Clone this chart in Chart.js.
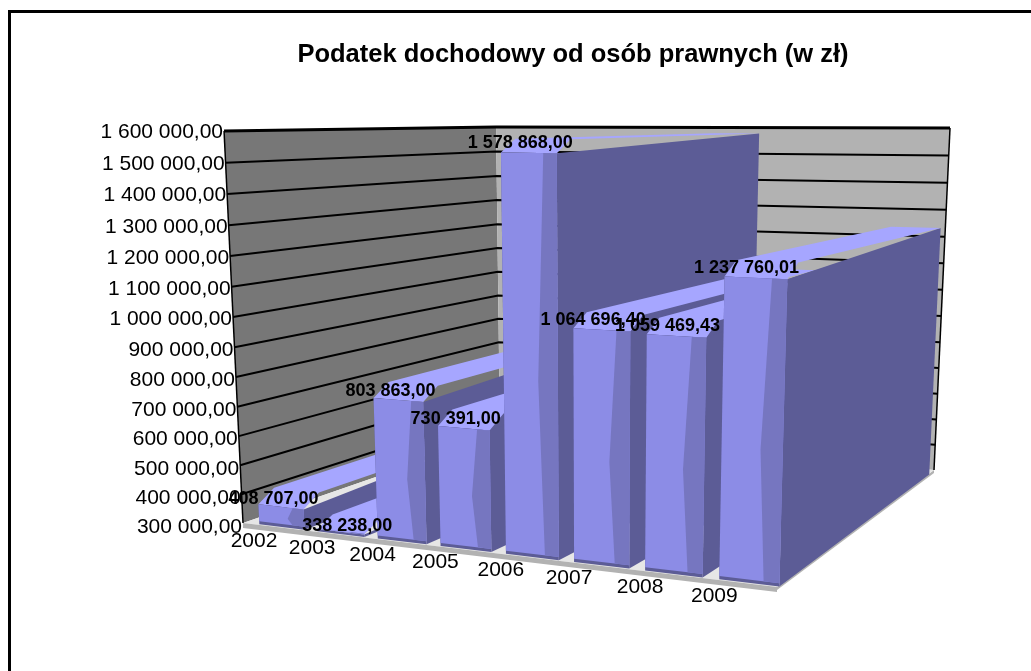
<!DOCTYPE html>
<html>
<head>
<meta charset="utf-8">
<title>Podatek dochodowy od osób prawnych</title>
<script src="https://cdn.jsdelivr.net/npm/chart.js@4"></script>
<style>
  html, body { margin: 0; padding: 0; background: #fff; }
  canvas { display: block; }
</style>
</head>
<body>
<canvas id="chart" width="1031" height="671"></canvas>
<script>
const years = ["2002", "2003", "2004", "2005", "2006", "2007", "2008", "2009"];
const taxValues = [408707.0, 338238.0, 803863.0, 730391.0, 1578868.0, 1064696.4, 1059469.43, 1237760.01];
const axisMin = 300000;
const axisMax = 1600000;
const axisStep = 100000;
const chartTitle = "Podatek dochodowy od osób prawnych (w zł)";

// floor corners on the page: front left, front right, back right, back left
const floor = [[243, 523], [777, 587], [934, 470], [500, 434]];
const lean = { m: -0.0511, e: -30.4, k: -398.7, ku: 6.8, kd: -2.3 };
const barFrom = 0.0193;
const barSpan = 0.9968;
const frontDepth = 0.004;
const backDepth = 0.95;
const bevel = 0.03;

function buildProjection() {
  const [p0, p1, p2, p3] = floor;
  const dx1 = p1[0] - p2[0], dy1 = p1[1] - p2[1];
  const dx2 = p3[0] - p2[0], dy2 = p3[1] - p2[1];
  const sx = p0[0] - p1[0] + p2[0] - p3[0], sy = p0[1] - p1[1] + p2[1] - p3[1];
  const det = dx1 * dy2 - dy1 * dx2;
  const g = (sx * dy2 - sy * dx2) / det;
  const h = (dx1 * sy - dy1 * sx) / det;
  const a = p1[0] - p0[0] + g * p1[0], b = p3[0] - p0[0] + h * p3[0];
  const f = p1[1] - p0[1] + g * p1[1], i = p3[1] - p0[1] + h * p3[1];
  return (u, d, v) => {
    const w = g * u + h * d + lean.m * v + 1;
    const k = lean.k + lean.ku * u + lean.kd * d;
    return [(a * u + b * d + p0[0] + lean.e * v) / w, (f * u + i * d + p0[1] + k * v) / w];
  };
}

const project = buildProjection();

function fillPoly(ctx, points, color) {
  ctx.beginPath();
  points.forEach(([x, y], n) => (n ? ctx.lineTo(x, y) : ctx.moveTo(x, y)));
  ctx.closePath();
  ctx.fillStyle = color;
  ctx.fill();
}

function strokeLine(ctx, points, width) {
  ctx.beginPath();
  points.forEach(([x, y], n) => (n ? ctx.lineTo(x, y) : ctx.moveTo(x, y)));
  ctx.lineWidth = width;
  ctx.strokeStyle = "#000";
  ctx.stroke();
}

function formatAmount(value) {
  const [whole, cents] = value.toFixed(2).split(".");
  return `${whole.replace(/\B(?=(\d{3})+$)/g, " ")},${cents}`;
}

function heightOfPixel(yScale, pixel) {
  return (yScale.bottom - pixel) / (yScale.bottom - yScale.top);
}

function pixelToFloor(xScale, pixel) {
  return barFrom + ((pixel - xScale.left) / xScale.width) * barSpan;
}

function drawWalls(ctx, yScale) {
  const a = project(0, 0, 0);
  const b = project(1, 0, 0);
  const c = project(1, 1, 0);
  fillPoly(ctx, [a, project(0, 1, 0), project(0, 1, 1), project(0, 0, 1)], "#777777");
  fillPoly(ctx, [project(0, 1, 0), c, project(1, 1, 1), project(0, 1, 1)], "#b2b2b2");
  fillPoly(ctx, [b, [b[0], b[1] + 3], [c[0], c[1] + 3], c], "#b2b2b2");
  fillPoly(ctx, [a, b, c, project(0, 1, 0)], "#e6e6e6");
  fillPoly(ctx, [a, b, [b[0], b[1] + 5], [a[0], a[1] + 5]], "#b2b2b2");

  yScale.ticks.forEach((tick) => {
    const v = heightOfPixel(yScale, yScale.getPixelForValue(tick.value));
    if (v > 0) {
      strokeLine(ctx, [project(0, 0, v), project(0, 1, v), project(1, 1, v)], v === 1 ? 3 : 2);
    }
  });
  strokeLine(ctx, [project(0, 0, 0), project(0, 0, 1)], 1.5);
  strokeLine(ctx, [project(1, 1, 0), project(1, 1, 1)], 1.5);
}

function drawBar(ctx, bar, xScale, yScale) {
  const u0 = pixelToFloor(xScale, bar.x - bar.width / 2);
  const u1 = pixelToFloor(xScale, bar.x + bar.width / 2);
  const v = heightOfPixel(yScale, bar.y);
  const vf = Math.max(v - bevel, 0.006);
  const du = u1 - u0;

  // right side, then the top with its short lip over the front
  fillPoly(ctx, [project(u1, frontDepth, 0), project(u1, backDepth, 0), project(u1, backDepth, v), project(u1, frontDepth, vf)], "#5c5c96");
  fillPoly(ctx, [project(u0, frontDepth, vf), project(u1, frontDepth, vf), project(u1, frontDepth + 0.05, v), project(u1, backDepth, v), project(u0, backDepth, v), project(u0, frontDepth + 0.05, v)], "#a6a6ff");

  fillPoly(ctx, [project(u0, frontDepth, 0), project(u1, frontDepth, 0), project(u1, frontDepth, vf), project(u0, frontDepth, vf)], "#5c5c96");
  fillPoly(ctx, [project(u0, frontDepth, 0.008), project(u1, frontDepth, 0.008), project(u1, frontDepth, vf), project(u0, frontDepth, vf)], "#8c8ce6");

  // darker band down the right part of the front, wider half way up
  fillPoly(ctx, [
    project(u0 + du * 0.76, frontDepth, vf),
    project(u1, frontDepth, vf),
    project(u1, frontDepth, 0.008),
    project(u0 + du * 0.74, frontDepth, 0.008),
    project(u0 + du * 0.64, frontDepth, vf * 0.45)
  ], "#7676c0");
}

const chart3d = {
  id: "chart3d",
  beforeDraw(chart) {
    const ctx = chart.ctx;
    ctx.save();
    ctx.fillStyle = "#fff";
    ctx.fillRect(0, 0, chart.width, chart.height);
    ctx.fillStyle = "#000";
    ctx.fillRect(8, 10, 1023, 3);
    ctx.fillRect(8, 10, 3, 661);
    ctx.restore();
  },
  beforeDatasetsDraw(chart) {
    const ctx = chart.ctx;
    const xScale = chart.scales.x;
    const yScale = chart.scales.y;
    const bars = chart.getDatasetMeta(0).data;
    ctx.save();
    drawWalls(ctx, yScale);
    bars.forEach((bar) => drawBar(ctx, bar, xScale, yScale));

    ctx.fillStyle = "#000";
    ctx.textBaseline = "middle";
    ctx.font = "21px 'Liberation Sans'";
    ctx.textAlign = "right";
    yScale.ticks.forEach((tick) => {
      const v = heightOfPixel(yScale, yScale.getPixelForValue(tick.value));
      const [x, y] = project(0, 0, v);
      ctx.fillText(tick.label, x - 1, y + 4 - 3 * v);
    });
    ctx.textAlign = "center";
    xScale.ticks.forEach((tick, n) => {
      const left = bars[n].x - bars[n].width / 2;
      const [x, y] = project(pixelToFloor(xScale, left), 0, 0);
      ctx.fillText(tick.label, x - 4, y + 16);
    });

    ctx.font = "bold 18px 'Liberation Sans'";
    bars.forEach((bar, n) => {
      const [x, y] = project(pixelToFloor(xScale, bar.x - bar.width * 0.15), frontDepth, heightOfPixel(yScale, bar.y));
      // the 2003 label sits further right than the others in the source chart
      ctx.fillText(formatAmount(taxValues[n]), x + (n === 1 ? 14 : 0), y + 4);
    });
    ctx.restore();
  },
  beforeDatasetDraw() {
    return false;
  }
};

new Chart(document.getElementById("chart"), {
  type: "bar",
  data: {
    labels: years,
    datasets: [
      {
        label: chartTitle,
        data: taxValues,
        backgroundColor: "#8c8ce6",
        barPercentage: 0.78,
        categoryPercentage: 1
      }
    ]
  },
  plugins: [chart3d],
  options: {
    responsive: false,
    animation: false,
    layout: { padding: { left: 117, right: 10, top: 40, bottom: 80 } },
    plugins: {
      legend: { display: false },
      tooltip: { enabled: false },
      title: {
        display: true,
        text: chartTitle,
        color: "#000",
        font: { family: "'Liberation Sans'", size: 25.5, weight: "bold" },
        padding: { top: 0, bottom: 20 },
        fullSize: false
      }
    },
    scales: {
      x: { display: true, grid: { display: false }, border: { display: false }, ticks: { display: false } },
      y: {
        min: axisMin,
        max: axisMax,
        grid: { display: false },
        border: { display: false },
        ticks: { display: false, stepSize: axisStep, callback: (value) => formatAmount(value) }
      }
    }
  }
});
</script>
</body>
</html>
